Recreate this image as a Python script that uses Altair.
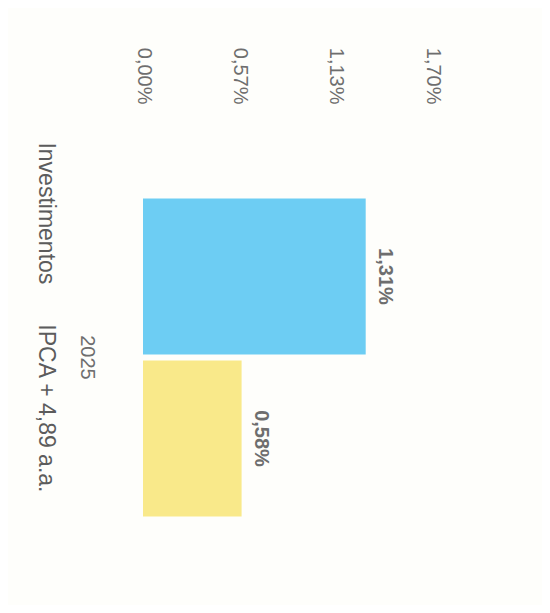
import altair as alt
import pandas as pd

# ---- data ----
years = ["2025", "2025"]
series = ["Investimentos", "IPCA + 4,89 a.a."]
values = [1.31, 0.58]
colors = ["#6dcdf3", "#f9e98a"]
tick_values = [0.0, 0.5667, 1.1333, 1.70]

df = pd.DataFrame({"year": years, "series": series, "value": values})

fmt = "replace(format(datum.value, '.2f'), '.', ',') + '%'"
txt_color = "#6e6e6e"
font = "Liberation Sans"

x_enc = alt.X(
    "value:Q",
    scale=alt.Scale(domain=[0, 1.70], nice=False, zero=True),
    axis=alt.Axis(
        orient="top", values=tick_values, labelExpr=fmt, labelAngle=90,
        labelAlign="right", labelBaseline="middle", labelPadding=6,
        labelFontSize=20, labelColor=txt_color, labelFont=font,
        ticks=False, domain=False, grid=False, title=None,
    ),
)

y_year = alt.Y(
    "year:N",
    scale=alt.Scale(paddingInner=0, paddingOuter=0.278),
    axis=alt.Axis(
        orient="left", labelAngle=90, labelAlign="center", labelBaseline="top",
        labelPadding=47, labelFontSize=20, labelColor=txt_color, labelFont=font,
        ticks=False, domain=False, grid=False, title=None,
    ),
)
y_off = alt.YOffset("series:N", sort=series, scale=alt.Scale(paddingInner=0.037, paddingOuter=0))

bars = alt.Chart(df).mark_bar().encode(
    x=x_enc,
    y=y_year,
    yOffset=y_off,
    color=alt.Color("series:N", scale=alt.Scale(domain=series, range=colors), legend=None),
)

labels = alt.Chart(df).transform_calculate(label=fmt).mark_text(
    angle=90, align="center", baseline="bottom", dy=-9,
    fontSize=20, fontWeight="bold", color=txt_color, font=font,
).encode(
    x=alt.X("value:Q"),
    y=alt.Y("year:N"),
    yOffset=y_off,
    text="label:N",
)

main = alt.layer(bars, labels)

names = alt.Chart(df).mark_point(opacity=0).encode(
    x=alt.X("value:Q"),
    y=alt.Y(
        "series:N", sort=series,
        scale=alt.Scale(type="point", padding=0.769, align=0.343),
        axis=alt.Axis(
            orient="left", offset=0, labelAngle=90, labelAlign="center",
            labelBaseline="top", labelPadding=87, labelFontSize=23,
            labelColor="#5c5c5c", labelFont=font, labelLimit=400,
            ticks=False, domain=False, grid=False, title=None,
        ),
    ),
)

chart = alt.layer(main, names).resolve_scale(y="independent").properties(
    width=289,
    height=495,
    autosize=alt.AutoSizeParams(type="none"),
    padding={"left": 135, "top": 102, "right": 110, "bottom": 0},
    background="#fefefb",
).configure_view(stroke=None)

chart.save("out.html", embed_options={"renderer": "svg", "actions": False})
